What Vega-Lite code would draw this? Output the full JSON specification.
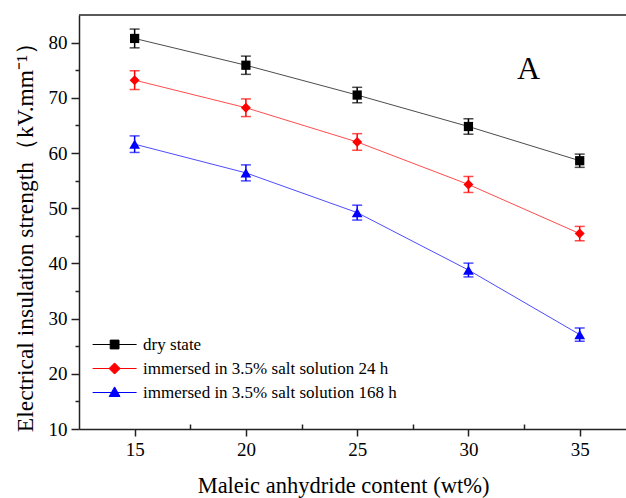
{
  "$schema": "https://vega.github.io/schema/vega-lite/v6.json",
  "width": 547,
  "height": 414,
  "autosize": {"type": "none"},
  "padding": {"left": 79, "top": 15, "right": 0, "bottom": 69},
  "background": "white",
  "title": {
    "text": "A",
    "orient": "top",
    "anchor": "end",
    "frame": "group",
    "font": "Liberation Serif",
    "fontSize": 32,
    "fontWeight": "normal",
    "color": "#000",
    "baseline": "middle",
    "offset": 0,
    "dx": -86,
    "dy": 87
  },
  "config": {
    "view": {"stroke": null},
    "font": "Times New Roman",
    "style": {"guide-label": {"font": "Times New Roman"}},
    "axis": {
      "grid": false,
      "domainColor": "#222",
      "domainWidth": 1.5,
      "tickColor": "#222",
      "tickWidth": 1.5,
      "labelFont": "Times New Roman",
      "labelFontSize": 19,
      "labelColor": "#000",
      "titleFont": "Liberation Serif",
      "titleFontWeight": "normal",
      "titleColor": "#000"
    },
    "legend": {"labelFont": "Times New Roman"}
  },
  "data": {
    "values": [
      {"x": 15, "series": "dry state", "v": 80.75, "err": 1.7},
      {"x": 20, "series": "dry state", "v": 75.9, "err": 1.65},
      {"x": 25, "series": "dry state", "v": 70.5, "err": 1.4},
      {"x": 30, "series": "dry state", "v": 64.8, "err": 1.4},
      {"x": 35, "series": "dry state", "v": 58.6, "err": 1.2},
      {"x": 15, "series": "immersed in 3.5% salt solution 24 h", "v": 73.2, "err": 1.7},
      {"x": 20, "series": "immersed in 3.5% salt solution 24 h", "v": 68.2, "err": 1.6},
      {"x": 25, "series": "immersed in 3.5% salt solution 24 h", "v": 62.0, "err": 1.5},
      {"x": 30, "series": "immersed in 3.5% salt solution 24 h", "v": 54.3, "err": 1.45},
      {"x": 35, "series": "immersed in 3.5% salt solution 24 h", "v": 45.4, "err": 1.3},
      {"x": 15, "series": "immersed in 3.5% salt solution 168 h", "v": 61.6, "err": 1.5},
      {"x": 20, "series": "immersed in 3.5% salt solution 168 h", "v": 56.4, "err": 1.45},
      {"x": 25, "series": "immersed in 3.5% salt solution 168 h", "v": 49.2, "err": 1.35},
      {"x": 30, "series": "immersed in 3.5% salt solution 168 h", "v": 38.8, "err": 1.25},
      {"x": 35, "series": "immersed in 3.5% salt solution 168 h", "v": 27.1, "err": 1.2}
    ]
  },
  "encoding": {
    "x": {
      "field": "x",
      "type": "quantitative",
      "scale": {"domain": [12.5, 37.08], "nice": false, "zero": false},
      "axis": {
        "title": "Maleic anhydride content (wt%)",
        "titleFontSize": 22.5,
        "titleX": 264,
        "titleY": 56,
        "titleBaseline": "middle",
        "titleAlign": "center",
        "labelFont": "Times New Roman",
        "values": [15, 17.5, 20, 22.5, 25, 27.5, 30, 32.5, 35],
        "labelExpr": "datum.value % 5 === 0 ? datum.label : ''",
        "tickSize": {"condition": {"test": "datum.value % 5 === 0", "value": 7}, "value": -5},
        "labelPadding": 4
      }
    },
    "y": {
      "field": "v",
      "type": "quantitative",
      "scale": {"domain": [10, 85], "nice": false, "zero": false},
      "axis": {
        "title": "Electrical insulation strength（kV.mm⁻¹）",
        "titleFontSize": 23.5,
        "titleX": -54,
        "titleY": 216,
        "titleBaseline": "middle",
        "titleAlign": "center",
        "labelFont": "Times New Roman",
        "values": [10, 15, 20, 25, 30, 35, 40, 45, 50, 55, 60, 65, 70, 75, 80],
        "labelExpr": "datum.value % 10 === 0 ? datum.label : ''",
        "tickSize": {"condition": {"test": "datum.value % 10 === 0", "value": 8}, "value": 4},
        "labelPadding": 4
      }
    },
    "color": {
      "field": "series",
      "type": "nominal",
      "scale": {
        "domain": ["dry state", "immersed in 3.5% salt solution 24 h", "immersed in 3.5% salt solution 168 h"],
        "range": ["#000000", "#ff0000", "#0000ff"]
      },
      "legend": null
    }
  },
  "resolve": {"scale": {"shape": "independent", "fill": "independent", "stroke": "independent"}},
  "layer": [
    {
      "data": {"values": [{"top": 85}]},
      "mark": {"type": "rule", "color": "#222", "strokeWidth": 1.5},
      "encoding": {"y": {"field": "top", "type": "quantitative"}, "x": null, "color": null}
    },
    {
      "mark": {"type": "line", "strokeWidth": 1, "opacity": 0.7},
      "encoding": {}
    },
    {
      "mark": {"type": "errorbar", "ticks": {"size": 10, "thickness": 1.5}, "rule": {"strokeWidth": 1.5}},
      "encoding": {
        "y": {"field": "v", "type": "quantitative"},
        "yError": {"field": "err"}
      }
    },
    {
      "mark": {"type": "point", "filled": true, "opacity": 1},
      "encoding": {
        "shape": {
          "field": "series",
          "type": "nominal",
          "scale": {
            "domain": ["dry state", "immersed in 3.5% salt solution 24 h", "immersed in 3.5% salt solution 168 h"],
            "range": ["square", "diamond", "triangle-up"]
          },
          "legend": null
        },
        "size": {
          "field": "series",
          "type": "nominal",
          "scale": {
            "domain": ["dry state", "immersed in 3.5% salt solution 24 h", "immersed in 3.5% salt solution 168 h"],
            "range": [85, 115, 105]
          },
          "legend": null
        }
      }
    },
    {
      "transform": [{"filter": "false"}],
      "mark": {"type": "point", "filled": true, "opacity": 1, "strokeWidth": 1},
      "encoding": {
        "color": null,
        "shape": {
          "field": "series",
          "type": "nominal",
          "scale": {
            "domain": ["dry state", "immersed in 3.5% salt solution 24 h", "immersed in 3.5% salt solution 168 h"],
            "range": ["M-5.5,0H5.5M-1.1,-1.1H1.1V1.1H-1.1Z", "M-5.5,0H5.5M0,-1.4L1.4,0L0,1.4L-1.4,0Z", "M-5.5,0H5.5M0,-1.4L1.35,1.0H-1.35Z"]
          },
          "legend": {
            "orient": "none",
            "legendX": 9.6,
            "legendY": 321,
            "title": null,
            "labelFont": "Times New Roman",
            "labelFontSize": 17,
            "labelColor": "#000",
            "labelLimit": 0,
            "labelOffset": 20,
            "symbolOffset": 17.5,
            "symbolSize": 64,
            "symbolStrokeWidth": 1,
            "rowPadding": 6,
            "padding": 0
          }
        },
        "fill": {
          "field": "series",
          "type": "nominal",
          "scale": {
            "domain": ["dry state", "immersed in 3.5% salt solution 24 h", "immersed in 3.5% salt solution 168 h"],
            "range": ["#000000", "#ff0000", "#0000ff"]
          },
          "legend": {
            "orient": "none",
            "legendX": 9.6,
            "legendY": 321,
            "title": null,
            "labelFont": "Times New Roman",
            "labelFontSize": 17,
            "labelColor": "#000",
            "labelLimit": 0,
            "labelOffset": 20,
            "symbolOffset": 17.5,
            "symbolSize": 64,
            "symbolStrokeWidth": 1,
            "rowPadding": 6,
            "padding": 0
          }
        },
        "stroke": {
          "field": "series",
          "type": "nominal",
          "scale": {
            "domain": ["dry state", "immersed in 3.5% salt solution 24 h", "immersed in 3.5% salt solution 168 h"],
            "range": ["#000000", "#ff0000", "#0000ff"]
          },
          "legend": {
            "orient": "none",
            "legendX": 9.6,
            "legendY": 321,
            "title": null,
            "labelFont": "Times New Roman",
            "labelFontSize": 17,
            "labelColor": "#000",
            "labelLimit": 0,
            "labelOffset": 20,
            "symbolOffset": 17.5,
            "symbolSize": 64,
            "symbolStrokeWidth": 1,
            "rowPadding": 6,
            "padding": 0
          }
        }
      }
    }
  ]
}
